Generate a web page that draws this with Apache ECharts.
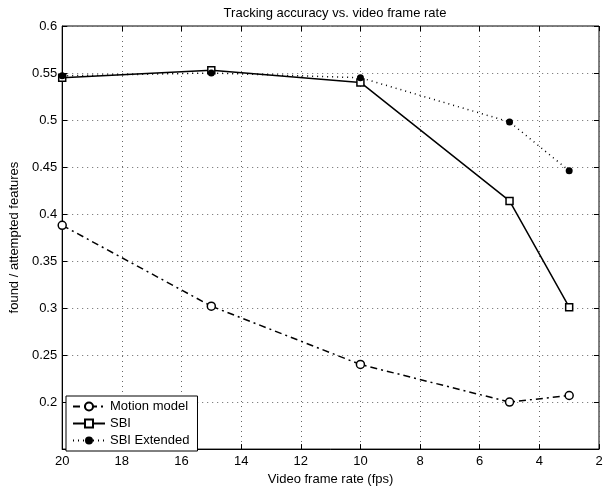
<!DOCTYPE html>
<html>
<head>
<meta charset="utf-8">
<script src="https://cdn.jsdelivr.net/npm/echarts@6/dist/echarts.min.js"></script>
<style>
  html, body { margin: 0; padding: 0; background: #fff; }
  #chart { width: 608px; height: 491px; }
</style>
</head>
<body>
<div id="chart"></div>
<script>
// frame rates (fps) and accuracy values
const frameRates = [20, 15, 10, 5, 3];
const motionModel = [0.388, 0.302, 0.240, 0.200, 0.207];
const sbi = [0.545, 0.553, 0.540, 0.414, 0.301];
const sbiExtended = [0.547, 0.550, 0.545, 0.498, 0.446];

const font = 'Liberation Sans';

function pairs(ys) {
  return frameRates.map((x, i) => [x, ys[i]]);
}

const chart = echarts.init(document.getElementById('chart'));

const gridLine = { show: true, lineStyle: { color: '#666', type: [1, 4], width: 1 } };

chart.setOption({
  animation: false,
  backgroundColor: '#fff',
  title: {
    text: 'Tracking accuracy vs. video frame rate',
    left: 330,
    textAlign: 'center',
    top: 2,
    textStyle: { fontFamily: font, fontSize: 13, fontWeight: 'normal', color: '#000' }
  },
  grid: { left: 60, right: 9, top: 26, bottom: 36, show: true, borderColor: '#000', borderWidth: 1 },
  legend: {
    orient: 'vertical',
    left: 66,
    top: 396,
    padding: [4, 8, 4, 6],
    itemGap: 4,
    itemWidth: 32,
    itemHeight: 10,
    backgroundColor: '#fff',
    borderColor: '#000',
    borderWidth: 1,
    textStyle: { fontFamily: font, fontSize: 13, color: '#000' },
    data: ['Motion model', 'SBI', 'SBI Extended']
  },
  xAxis: [{
    type: 'value',
    inverse: true,
    min: 2, max: 20, interval: 2,
    name: 'Video frame rate (fps)',
    nameLocation: 'middle',
    nameGap: 21,
    nameTextStyle: { fontFamily: font, fontSize: 13, color: '#000' },
    axisLine: { onZero: false, lineStyle: { color: '#000' } },
    axisTick: { inside: true, length: 5, lineStyle: { color: '#000' } },
    axisLabel: { fontFamily: font, fontSize: 13, color: '#000', margin: 6 },
    splitLine: gridLine
  }, {
    type: 'value',
    position: 'top',
    inverse: true,
    min: 2, max: 20, interval: 2,
    axisLine: { show: false },
    axisTick: { inside: true, length: 5, lineStyle: { color: '#000' } },
    axisLabel: { show: false },
    splitLine: { show: false }
  }],
  yAxis: [{
    type: 'value',
    min: 0.15, max: 0.6, interval: 0.05,
    name: 'found / attempted features',
    nameLocation: 'middle',
    nameGap: 41,
    nameTextStyle: { fontFamily: font, fontSize: 13, color: '#000' },
    axisLine: { show: true, onZero: false, lineStyle: { color: '#000' } },
    axisTick: { show: true, inside: true, length: 5, lineStyle: { color: '#000' } },
    axisLabel: {
      fontFamily: font, fontSize: 13, color: '#000', margin: 5,
      formatter: v => (v < 0.16 ? '' : String(+v.toFixed(2)))
    },
    splitLine: gridLine
  }, {
    type: 'value',
    position: 'right',
    min: 0.15, max: 0.6, interval: 0.05,
    axisLine: { show: false },
    axisTick: { show: true, inside: true, length: 5, lineStyle: { color: '#000' } },
    axisLabel: { show: false },
    splitLine: { show: false }
  }],
  series: [{
    name: 'Motion model',
    type: 'line',
    data: pairs(motionModel),
    symbol: 'circle',
    symbolSize: 8,
    itemStyle: { color: '#fff', borderColor: '#000', borderWidth: 1.5 },
    lineStyle: { color: '#000', width: 1.5, type: [7, 4, 2, 4] },
    z: 3
  }, {
    name: 'SBI',
    type: 'line',
    data: pairs(sbi),
    symbol: 'rect',
    symbolSize: 7,
    itemStyle: { color: '#fff', borderColor: '#000', borderWidth: 1.5 },
    lineStyle: { color: '#000', width: 1.5, type: 'solid' },
    z: 4
  }, {
    name: 'SBI Extended',
    type: 'line',
    data: pairs(sbiExtended),
    symbol: 'circle',
    symbolSize: 7,
    itemStyle: { color: '#000', borderColor: '#000', borderWidth: 0 },
    lineStyle: { color: '#000', width: 1.5, type: [1, 4] },
    z: 5
  }]
});
</script>
</body>
</html>
